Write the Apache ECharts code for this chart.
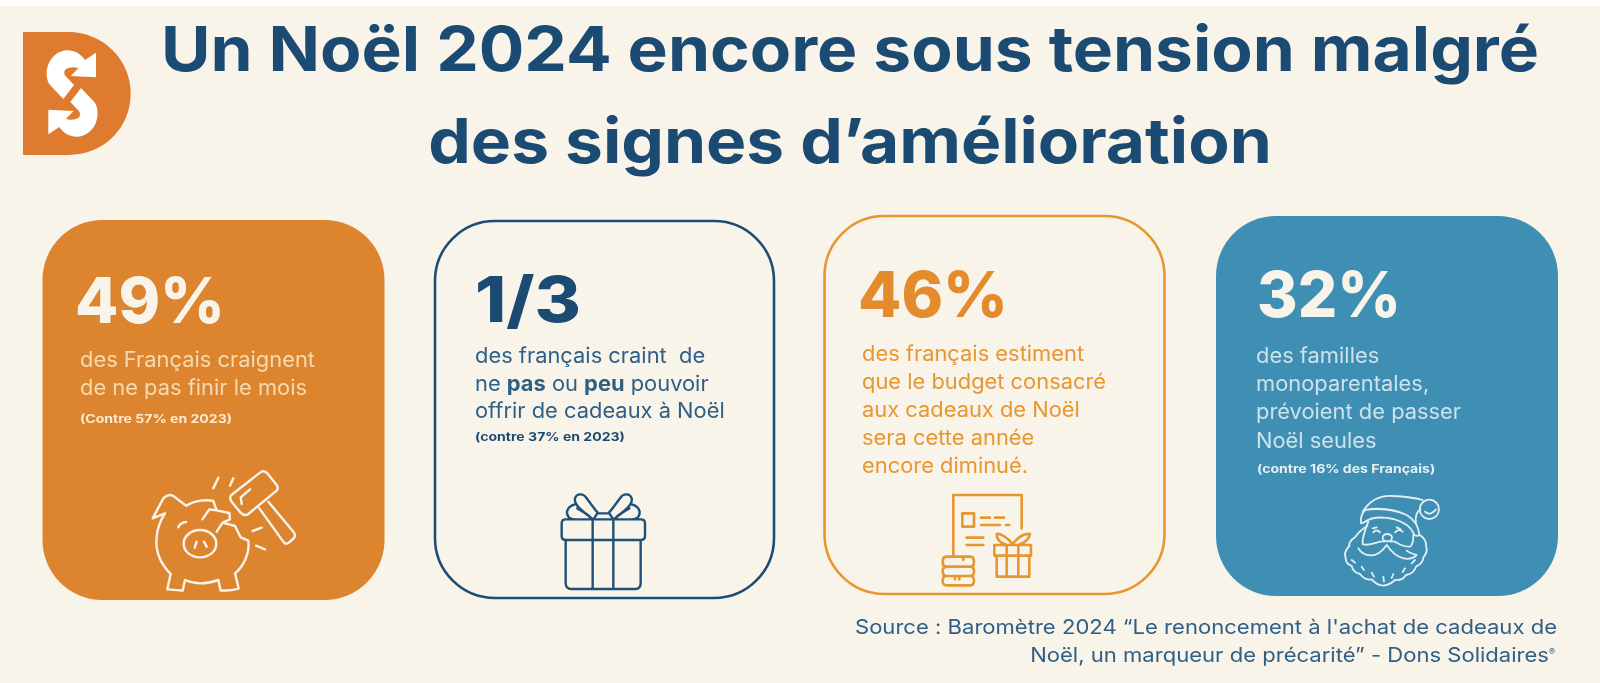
<!DOCTYPE html>
<html lang="fr"><head><meta charset="utf-8"><title>Un Noël 2024 encore sous tension</title>
<style>html,body{margin:0;padding:0;background:#F8F4EA}#c{width:1600px;height:683px}</style>
<script src="https://cdn.jsdelivr.net/npm/echarts@6/dist/echarts.min.js"></script></head>
<body><div id="c"></div>
<script>
// ---- content ----
const titleLines = ['Un Noël 2024 encore sous tension malgré', 'des signes d’amélioration'];
const figures = ['49%', '1/3', '46%', '32%'];
const bodyOne = ['des Français craignent', 'de ne pas finir le mois'];
const bodyTwo = ['des français craint  de', 'ne *pas* ou *peu* pouvoir', 'offrir de cadeaux à Noël'];
const bodyThree = ['des français estiment', 'que le budget consacré', 'aux cadeaux de Noël', 'sera cette année', 'encore diminué.'];
const bodyFour = ['des familles', 'monoparentales,', 'prévoient de passer', 'Noël seules'];
const notes = ['(Contre 57% en 2023)', '(contre 37% en 2023)', '', '(contre 16% des Français)'];
const sourceLines = ['Source : Baromètre 2024 “Le renoncement à l\'achat de cadeaux de', 'Noël, un marqueur de précarité” - Dons Solidaires'];

// ---- helpers ----
const FONT = 'Inter, "Noto Sans", sans-serif';
const ctx = document.createElement('canvas').getContext('2d');
const fontStr = (w, s) => `${w} ${s}px ${FONT}`;
const widthOf = (t, w, s) => { ctx.font = fontStr(w, s); ctx.textBaseline = 'middle'; return ctx.measureText(t).width; };
const baseOff = (w, s) => { ctx.font = fontStr(w, s); ctx.textBaseline = 'middle'; return ctx.measureText('H').actualBoundingBoxDescent; };
const els = [];
let shapeCount = 0;
function pathShape(d) {
  const name = 'svgShape' + (shapeCount++);
  echarts.graphic.registerShape(name, echarts.graphic.extendPath(d));
  return name;
}
function text(t, x, base, size, weight, fill, sx) {
  els.push({ type: 'text', x, y: base - baseOff(weight, size), scaleX: sx, silent: true,
    style: { text: t, font: fontStr(weight, size), fill, align: 'left', verticalAlign: 'middle' } });
}
function card(x, y, w, h, fill, stroke) {
  els.push({ type: 'rect', shape: { x, y, width: w, height: h, r: 60 },
    style: { fill: fill || 'transparent', stroke: stroke || null, lineWidth: stroke ? 2.6 : 0 } });
}
function solid(d, fill) {
  els.push({ type: pathShape(d), scaleX: 1 / 3, scaleY: 1 / 3, silent: true, style: { fill } });
}
function icon(d, ox, oy, color, lw) {
  els.push({ type: pathShape(d), x: ox, y: oy, scaleX: 1 / 3, scaleY: 1 / 3, silent: true,
    style: { fill: 'none', stroke: color, lineWidth: lw * 3, lineCap: 'round', lineJoin: 'round' } });
}

// ---- frame ----
els.push({ type: 'rect', shape: { x: 0, y: 0, width: 1600, height: 6 }, style: { fill: '#FFFFFF' } });

// ---- logo ----
solid('M69 96H205C310 96 392 180 392 280C392 385 310 465 205 465H69Z', '#DF7B2E');
solid('M190 297L150 255C135 235 135 190 165 165C195 140 235 150 255 180L288 158L288 232L212 228L235 205C225 200 205 200 195 210C190 220 195 228 200 232L222 255Z', '#FFFFFF');
solid('M243 264L283 306C298 326 298 371 268 396C238 421 198 411 178 381L145 403L145 329L221 333L198 356C208 361 228 361 238 351C243 341 238 333 233 329L211 306Z', '#FFFFFF');

// ---- title ----
const NAVY = '#1B4A72';
const titleScale = 1378 / widthOf(titleLines[0], 700, 62);
text(titleLines[0], 161, 71, 62, 700, NAVY, titleScale);
text(titleLines[1], 850 - widthOf(titleLines[1], 700, 62) * titleScale / 2, 163, 62, 700, NAVY, titleScale);

// ---- cards ----
card(42.5, 220, 342, 380, '#DD842F');
card(435, 221, 339, 377, null, '#1F4C74');
card(824.5, 216, 340, 378, null, '#E8962F');
card(1216, 216, 342, 380, '#3F8FB5');

const figSize = 63;
const figFit = (t, target) => target / widthOf(t, 800, figSize);
const bodyScale = 235 / widthOf(bodyOne[0], 400, 21);
const noteScale = 152 / widthOf(notes[0], 700, 11.5);
const body = 21;

text(figures[0], 75, 323, figSize, 800, '#F8F4EA', figFit(figures[0], 150));
text(figures[1], 475, 322, figSize, 800, NAVY, figFit(figures[1], 106));
text(figures[2], 858, 317, figSize, 800, '#E48B2D', figFit(figures[2], 150));
text(figures[3], 1257, 317, figSize, 800, '#F8F4EA', figFit(figures[3], 144));

function richLine(line, x, base, color) {
  let cx = x;
  line.split('*').forEach((part, i) => {
    if (!part) return;
    const w = i % 2 ? 700 : 400;
    text(part, cx, base, body, w, color, bodyScale);
    cx += widthOf(part, w, body) * bodyScale;
  });
}
bodyOne.forEach((l, i) => richLine(l, 80, 367 + i * 28, '#F6DBB0'));
bodyTwo.forEach((l, i) => richLine(l, 475, 363 + i * 27.6, '#2E5F86'));
bodyThree.forEach((l, i) => richLine(l, 862, 360.5 + i * 28, '#E8962F'));
bodyFour.forEach((l, i) => richLine(l, 1256, 362.5 + i * 28.4, '#CDE2EA'));

text(notes[0], 80, 423, 11.5, 700, '#FBEBD2', noteScale);
text(notes[1], 475, 441, 11.5, 700, NAVY, noteScale);
text(notes[3], 1257, 473, 11.5, 700, '#E6F0F2', noteScale);

// ---- source ----
const srcScale = 702 / widthOf(sourceLines[0], 400, 20);
const SRC = '#2F5F86';
text(sourceLines[0], 855, 634, 20, 400, SRC, srcScale);
const regW = 8;
text(sourceLines[1], 1557 - regW - widthOf(sourceLines[1], 400, 20) * srcScale, 662, 20, 400, SRC, srcScale);
text('®', 1557 - regW, 655, 9, 400, SRC, 1);

// ---- icons: piggy bank and hammer ----
const CR = '#F8F4EA';
icon('M458 295L490 235Q505 220 520 228L558 257C585 240 620 238 640 243L650 271L688 279L690 298L668 308L705 318L722 352L745 362C750 400 730 440 705 460L716 505Q700 512 662 512L655 480Q600 500 555 480L548 512L502 508L512 462C480 430 465 395 470 350C472 325 482 300 495 280L458 295M650 271L628 268L607 298M668 308L650 335M535 322Q540 308 558 306M590 365L584 383M612 365L620 380', 0, 420, CR, 2.4);
els.push({ type: 'ellipse', x: 0, y: 420, scaleX: 1 / 3, scaleY: 1 / 3, shape: { cx: 600, cy: 371, rx: 49, ry: 41 }, style: { fill: 'none', stroke: CR, lineWidth: 7.2 } });
icon('M780 158Q792 148 802 160L830 195Q838 207 826 215L745 282Q733 290 722 278L695 245Q685 232 697 223ZM750 208L722 232L725 252M778 265L852 368Q860 375 870 365L882 354Q888 345 880 335L805 245M655 173L640 205M700 175L690 197M785 323L758 333M795 388L768 377', 0, 420, CR, 2.4);

// ---- icon: gift ----
icon('M137 148H363Q375 148 375 160V198Q375 210 363 210H137Q125 210 125 198V160Q125 148 137 148ZM137 210V340Q137 357 154 357H346Q362 357 362 340V210M218 148V357M280 148V357M220 148L232 130H268L280 148M215 145C190 125 160 105 165 85C170 70 190 68 200 85C215 105 225 120 235 130M172 115C190 125 205 135 215 145M165 103C145 108 135 125 145 140Q150 148 165 148M285 145C310 125 340 105 335 85C330 70 310 68 300 85C285 105 275 120 265 130M328 115C310 125 295 135 285 145M335 103C355 108 365 125 355 140Q350 148 335 148', 520, 470, '#1F5078', 2.4);

// ---- icon: list, coins and small gift ----
icon('M160 258V75H365V175M187 130H222V170H187ZM243 143H270M285 143H312M243 165H300M318 165H328M200 203H250M200 225H250M140 260H210Q222 260 222 275Q222 290 210 290H140Q128 290 128 275Q128 260 140 260ZM140 290H210Q222 290 222 304Q222 318 210 318H140Q128 318 128 304Q128 290 140 290ZM140 318H210Q222 318 222 332Q222 346 210 346H140Q128 346 128 332Q128 318 140 318ZM165 318V328M178 318V328M190 260V270M283 225H393V257H283ZM290 257V320H388V257M320 225V320M355 225V320M338 222C320 200 300 190 290 192Q290 215 315 222M338 222C355 200 375 190 390 192Q385 215 360 222', 900, 470, '#E8962F', 2.6);

// ---- icon: Santa ----
icon('M548 275C570 240 600 225 640 228C680 230 710 235 728 240M735 275Q750 290 768 268M722 268C710 275 705 290 708 310M543 310Q540 285 555 270Q620 258 680 285Q715 305 718 345Q712 350 703 345Q690 310 640 297Q585 285 555 305Q548 310 543 310ZM570 268Q620 265 650 275M565 305C555 330 545 355 548 372Q560 378 590 368Q605 362 612 365M700 345Q700 375 690 380Q670 380 650 368Q640 362 632 365M580 337Q590 325 600 337M645 337Q655 325 668 335M578 325L590 322M650 322L662 328M535 385C550 410 590 420 620 375C650 420 690 425 710 405Q690 400 680 392M562 318C540 330 530 345 525 352Q505 365 508 378Q490 395 497 415Q498 432 515 438Q520 458 540 462Q555 482 575 478Q590 495 610 497Q630 495 645 480Q668 482 678 465Q702 460 708 440Q730 430 730 412Q745 395 738 378Q740 360 720 345M515 420L525 428M545 440L552 450M575 458L582 470M610 470L612 485M640 462L635 474M675 445L668 456M705 420L695 430', 1180, 420, '#E3EFF2', 1.8);
els.push({ type: 'circle', x: 1180, y: 420, scaleX: 1 / 3, scaleY: 1 / 3, shape: { cx: 748, cy: 268, r: 29 }, style: { fill: 'none', stroke: '#E3EFF2', lineWidth: 5.4 } });
els.push({ type: 'ellipse', x: 1180, y: 420, scaleX: 1 / 3, scaleY: 1 / 3, shape: { cx: 622, cy: 353, rx: 14, ry: 11 }, style: { fill: 'none', stroke: '#E3EFF2', lineWidth: 5.4 } });

const chart = echarts.init(document.getElementById('c'), null, { renderer: 'canvas', width: 1600, height: 683 });
chart.setOption({ animation: false, backgroundColor: '#F8F4EA', graphic: { elements: els } });
</script></body></html>
